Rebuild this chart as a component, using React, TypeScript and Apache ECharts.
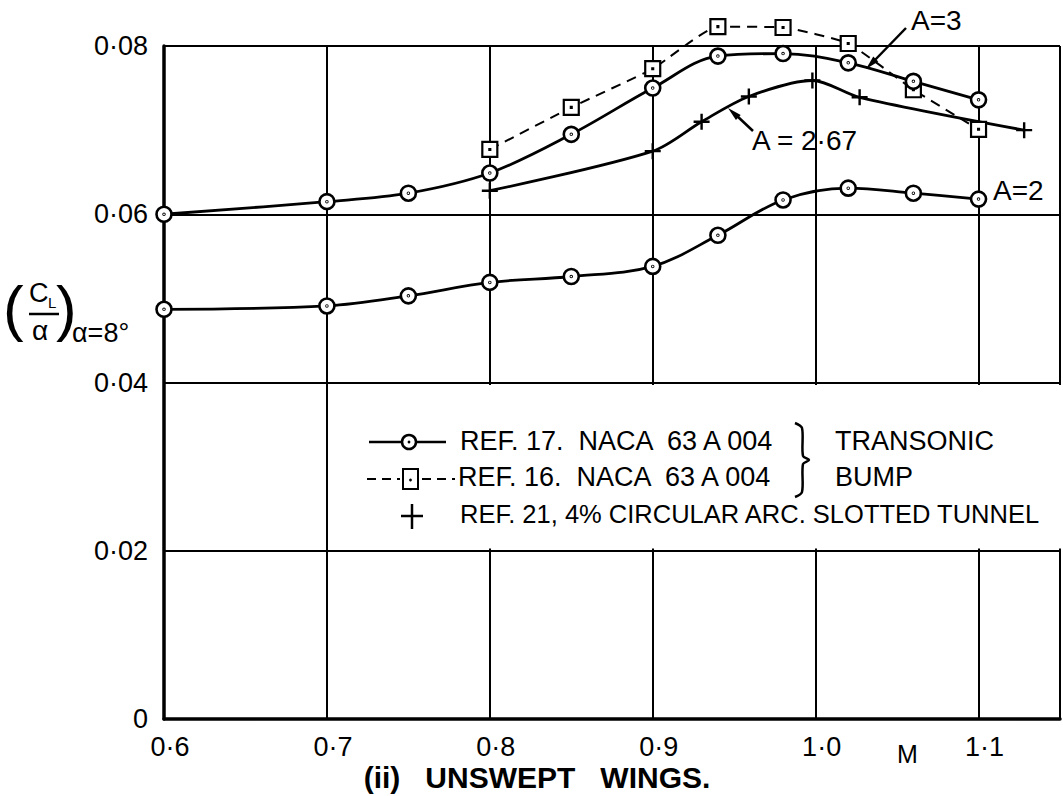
import React, { useEffect, useRef } from 'react';
import * as echarts from 'echarts';

// Mach numbers and (CL/alpha) values
const machA3 = [0.6, 0.7, 0.75, 0.8, 0.85, 0.9, 0.94, 0.98, 1.02, 1.06, 1.1];
const clA3 = [0.06, 0.0615, 0.0625, 0.0649, 0.0695, 0.075, 0.0788, 0.0791, 0.078, 0.0758, 0.0736];

const machBump = [0.8, 0.85, 0.9, 0.94, 0.98, 1.02, 1.06, 1.1];
const clBump = [0.0677, 0.0727, 0.0773, 0.0823, 0.0822, 0.0803, 0.0748, 0.0701];

const machSlot = [0.8, 0.9, 0.93, 0.959, 0.998, 1.027, 1.128];
const clSlot = [0.0628, 0.0675, 0.071, 0.074, 0.0759, 0.0739, 0.07];

const machA2 = [0.6, 0.7, 0.75, 0.8, 0.85, 0.9, 0.94, 0.98, 1.02, 1.06, 1.1];
const clA2 = [0.0487, 0.0491, 0.0503, 0.0519, 0.0526, 0.0538, 0.0575, 0.0617, 0.0631, 0.0625, 0.0618];

const xTicks = ['0·6', '0·7', '0·8', '0·9', '1·0', '1·1'];
const yTicks = ['0', '0·02', '0·04', '0·06', '0·08'];

const legendLabels = [
  'REF. 17.  NACA  63 A 004',
  'REF. 16.  NACA  63 A 004',
  'REF. 21, 4% CIRCULAR ARC. SLOTTED TUNNEL',
];
const bracketLabels = ['TRANSONIC', 'BUMP'];
const title = '(ii)   UNSWEPT   WINGS.';

const FONT = '"Liberation Sans", Arial, sans-serif';

const CIRCLE_DOT =
  'path://M0,-10A10,10,0,1,1,0,10A10,10,0,1,1,0,-10ZM0,-0.6A0.6,0.6,0,1,1,0,0.6A0.6,0.6,0,1,1,0,-0.6Z';
const SQUARE_DOT = 'path://M-10,-10L10,-10L10,10L-10,10ZM-0.6,-0.6L0.6,-0.6L0.6,0.6L-0.6,0.6Z';
const CROSS = 'path://M-10,0L10,0M0,-10L0,10';

function pairs(xs: number[], ys: number[]) {
  return xs.map((x, i) => [x, ys[i]]);
}

function arrowHead(x1: number, y1: number, x2: number, y2: number, len: number, w: number) {
  const dx = x2 - x1;
  const dy = y2 - y1;
  const d = Math.sqrt(dx * dx + dy * dy);
  const ux = dx / d;
  const uy = dy / d;
  const bx = x2 - ux * len;
  const by = y2 - uy * len;
  return [
    [x2, y2],
    [bx - uy * w, by + ux * w],
    [bx + uy * w, by - ux * w],
  ];
}

function text(x: number, y: number, t: string, size: number, extra: any = {}) {
  return {
    type: 'text',
    x,
    y,
    z: 5,
    style: {
      text: t,
      font: `${extra.weight || 'normal'} ${size}px ${FONT}`,
      fill: '#000',
      textAlign: extra.align || 'left',
      textVerticalAlign: 'middle',
    },
  };
}

export default function App() {
  const ref = useRef<HTMLDivElement>(null);

  useEffect(() => {
    if (!ref.current) return;
    const chart = echarts.init(ref.current, undefined, { renderer: 'svg' });

    const circleItem = { color: '#fff', borderColor: '#000', borderWidth: 2.6 };

    const graphic: any[] = [
      // blank box behind the legend
      {
        type: 'rect',
        z: 1,
        shape: { x: 332, y: 385, width: 740, height: 163.5 },
        style: { fill: '#fff' },
      },
      // legend row 1
      { type: 'line', z: 5, shape: { x1: 369, y1: 442, x2: 446, y2: 442 }, style: { stroke: '#000', lineWidth: 2.5 } },
      { type: 'circle', z: 6, shape: { cx: 409, cy: 442, r: 7 }, style: { fill: '#fff', stroke: '#000', lineWidth: 2.5 } },
      { type: 'circle', z: 7, shape: { cx: 409, cy: 442, r: 1.4 }, style: { fill: '#000' } },
      text(460, 441, legendLabels[0], 27),
      // legend row 2
      { type: 'line', z: 5, shape: { x1: 367, y1: 479, x2: 400, y2: 479 }, style: { stroke: '#000', lineWidth: 2, lineDash: [9, 6] } },
      { type: 'line', z: 5, shape: { x1: 422, y1: 479, x2: 455, y2: 479 }, style: { stroke: '#000', lineWidth: 2, lineDash: [9, 6] } },
      { type: 'rect', z: 6, shape: { x: 403, y: 469, width: 15, height: 20 }, style: { fill: '#fff', stroke: '#000', lineWidth: 2 } },
      { type: 'circle', z: 7, shape: { cx: 410.5, cy: 480, r: 1.4 }, style: { fill: '#000' } },
      text(458, 477, legendLabels[1], 27),
      // legend row 3
      { type: 'line', z: 5, shape: { x1: 401, y1: 516, x2: 423, y2: 516 }, style: { stroke: '#000', lineWidth: 2.5 } },
      { type: 'line', z: 5, shape: { x1: 412, y1: 504, x2: 412, y2: 529 }, style: { stroke: '#000', lineWidth: 2.5 } },
      text(460, 514, legendLabels[2], 25.5),
      // brace
      {
        type: 'polyline',
        z: 5,
        shape: {
          points: [[795, 423], [802, 428], [803, 456], [809, 460], [803, 464], [802, 492], [795, 497]],
          smooth: 0.3,
        },
        style: { stroke: '#000', lineWidth: 2.5, fill: 'none' },
      },
      text(835, 441, bracketLabels[0], 27),
      text(835, 477, bracketLabels[1], 27),
      // annotations
      text(911, 20, 'A=3', 28),
      { type: 'line', z: 5, shape: { x1: 906, y1: 28, x2: 874, y2: 61 }, style: { stroke: '#000', lineWidth: 2.5 } },
      { type: 'polygon', z: 5, shape: { points: arrowHead(906, 28, 866, 69, 14, 3.5) }, style: { fill: '#000' } },
      text(752, 140, 'A = 2·67', 28),
      { type: 'line', z: 5, shape: { x1: 753, y1: 131, x2: 736, y2: 115 }, style: { stroke: '#000', lineWidth: 2.5 } },
      { type: 'polygon', z: 5, shape: { points: arrowHead(753, 131, 728, 108, 14, 3.5) }, style: { fill: '#000' } },
      text(993, 190, 'A=2', 28),
      // axis name M and title
      text(897, 754, 'M', 25),
      text(537, 777, title, 30, { align: 'center', weight: 'bold' }),
      // y-axis name (CL / alpha) alpha=8°
      text(3, 307, '(', 62),
      text(56, 307, ')', 62),
      text(29, 293, 'C', 27),
      text(48, 302, 'L', 15),
      { type: 'line', z: 5, shape: { x1: 29, y1: 314, x2: 59, y2: 314 }, style: { stroke: '#000', lineWidth: 2.5 } },
      text(32, 330, 'α', 28),
      text(72, 333, 'α=8°', 27),
    ];

    chart.setOption({
      animation: false,
      backgroundColor: '#fff',
      grid: { left: 164, top: 46, width: 903, height: 673, containLabel: false },
      xAxis: {
        type: 'value',
        min: 0.6,
        max: 1.15,
        interval: 0.1,
        axisLine: { show: true, onZero: false, lineStyle: { color: '#000', width: 3.5 } },
        axisTick: { show: false },
        splitLine: { show: true, lineStyle: { color: '#000', width: 2 } },
        axisLabel: {
          margin: 14,
          fontSize: 27,
          fontFamily: FONT,
          color: '#000',
          padding: [0, 0, 0, 12],
          formatter: (v: number) => {
            const i = Math.round((v - 0.6) * 10);
            if (Math.abs(v - (0.6 + i * 0.1)) > 1e-6 || i < 0 || i >= xTicks.length) return '';
            return xTicks[i];
          },
        },
      },
      yAxis: {
        type: 'value',
        min: 0,
        max: 0.08,
        interval: 0.02,
        axisLine: { show: true, onZero: false, lineStyle: { color: '#000', width: 3.5 } },
        axisTick: { show: false },
        splitLine: { show: true, lineStyle: { color: '#000', width: 2 } },
        axisLabel: {
          margin: 16,
          fontSize: 27,
          fontFamily: FONT,
          color: '#000',
          padding: [0, 0, 12, 0],
          formatter: (v: number) => {
            const i = Math.round(v / 0.02);
            return yTicks[i] ?? '';
          },
        },
      },
      series: [
        {
          type: 'line',
          name: 'A=2',
          data: pairs(machA2, clA2),
          smooth: 0.35,
          clip: false,
          symbol: CIRCLE_DOT,
          symbolSize: 15,
          lineStyle: { color: '#000', width: 2.8 },
          itemStyle: circleItem,
          z: 3,
        },
        {
          type: 'line',
          name: 'Slotted',
          data: pairs(machSlot, clSlot),
          smooth: 0.3,
          clip: false,
          symbol: CROSS,
          symbolSize: 16,
          lineStyle: { color: '#000', width: 2.8 },
          itemStyle: { color: '#000', borderColor: '#000', borderWidth: 2.4 },
          z: 3,
        },
        {
          type: 'line',
          name: 'Bump',
          data: pairs(machBump, clBump),
          smooth: 0.15,
          clip: false,
          symbol: SQUARE_DOT,
          symbolSize: [15, 15],
          lineStyle: { color: '#000', width: 2, type: [10, 7] },
          itemStyle: { color: '#fff', borderColor: '#000', borderWidth: 2.2 },
          z: 3,
        },
        {
          type: 'line',
          name: 'A=3',
          data: pairs(machA3, clA3),
          smooth: 0.35,
          clip: false,
          symbol: CIRCLE_DOT,
          symbolSize: 15,
          lineStyle: { color: '#000', width: 2.8 },
          itemStyle: circleItem,
          z: 4,
        },
      ],
      graphic,
    });

    return () => chart.dispose();
  }, []);

  return (
    <div
      ref={ref}
      style={{ position: 'fixed', left: 0, top: 0, width: 1063, height: 796, background: '#fff' }}
    />
  );
}
